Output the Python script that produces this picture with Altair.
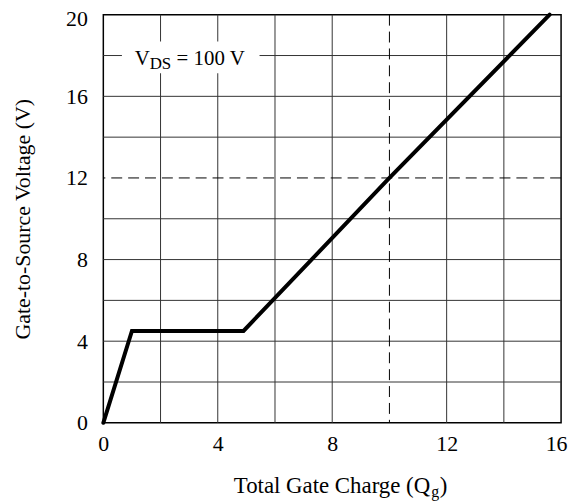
import altair as alt
import pandas as pd

# ---- data ----
qg = [0.0, 1.0, 4.9, 10.0, 15.6]          # Total gate charge
vgs = [0.0, 4.5, 4.5, 12.0, 20.0]         # Gate-to-source voltage

x_grid = [2, 4, 6, 8, 12, 14]
y_grid = [2, 4, 6, 8, 10, 14, 16, 18]
x_dash = [10]
y_dash = [12]
x_ticks = [0, 4, 8, 12, 16]
y_ticks = [0, 4, 8, 12, 16, 20]

# annotation "V_DS = 100 V"
box_x, box_x2, box_y, box_y2 = [0.65], [5.46], [17.13], [18.69]
ann_text = ["V", "DS", "= 100 V"]
ann_x = [1.10, 1.62, 2.56]
ann_y = [17.55, 17.36, 17.55]
ann_size = [21, 17, 21]

# x-axis title with subscript
xt_text = ["Total Gate Charge (Q", "g", ")"]
xt_x = [4.56, 11.46, 11.76]
xt_y = [-3.45, -3.62, -3.45]
xt_size = [23, 16, 23]

FONT = "Liberation Serif"

xscale = alt.Scale(domain=[0, 16], nice=False, zero=False)
yscale = alt.Scale(domain=[0, 20], nice=False, zero=False)

xaxis = alt.Axis(values=x_ticks, grid=False, ticks=False, tickSize=0, domain=False,
                 labelFont=FONT, labelFontSize=22, labelColor="black", labelPadding=11,
                 labelFlush=False, labelOverlap=False, title=None,
                 labelOffset={"condition": {"test": "datum.value == 16", "value": -5}, "value": 0})
yaxis = alt.Axis(values=y_ticks, grid=False, ticks=False, tickSize=0, domain=False,
                 labelFont=FONT, labelFontSize=22, labelColor="black", labelPadding=16,
                 labelFlush=False, labelOverlap=False,
                 labelOffset={"condition": {"test": "datum.value == 20", "value": 4}, "value": 0},
                 title="Gate-to-Source Voltage (V)", titleFont=FONT, titleFontSize=22,
                 titleFontWeight="normal", titleColor="black", titleX=-74, titleY=205.5,
                 titleBaseline="alphabetic")


def X(f):
    return alt.X(f, type="quantitative", scale=xscale, axis=xaxis)


def Y(f):
    return alt.Y(f, type="quantitative", scale=yscale, axis=yaxis)


curve = pd.DataFrame({"q": qg, "v": vgs})
vg = pd.DataFrame({"x": x_grid})
hg = pd.DataFrame({"y": y_grid})
vd = pd.DataFrame({"x": x_dash})
hd = pd.DataFrame({"y": y_dash})
box = pd.DataFrame({"x": box_x, "x2": box_x2, "y": box_y, "y2": box_y2})
ann = pd.DataFrame({"x": ann_x, "y": ann_y, "t": ann_text, "s": ann_size})
xt = pd.DataFrame({"x": xt_x, "y": xt_y, "t": xt_text, "s": xt_size})

grid_v = alt.Chart(vg).mark_rule(color="#333", strokeWidth=1).encode(x=X("x"))
grid_h = alt.Chart(hg).mark_rule(color="#333", strokeWidth=1).encode(y=Y("y"))
dash_v = alt.Chart(vd).mark_rule(color="black", strokeWidth=1, strokeDash=[11, 6]).encode(x=X("x"))
dash_h = alt.Chart(hd).mark_rule(color="black", strokeWidth=1, strokeDash=[11, 6]).encode(y=Y("y"))
box_l = alt.Chart(box).mark_rect(color="white").encode(x=X("x"), x2="x2", y=Y("y"), y2="y2")
line = alt.Chart(curve).mark_line(color="black", strokeWidth=4, strokeCap="round",
                                  strokeJoin="miter").encode(x=X("q"), y=Y("v"), order="q:Q")
ann_l = alt.Chart(ann).mark_text(font=FONT, color="black", align="left", baseline="alphabetic").encode(
    x=X("x"), y=Y("y"), text="t:N", size=alt.Size("s:Q", scale=None, legend=None))
xt_l = alt.Chart(xt).mark_text(font=FONT, color="black", align="left", baseline="alphabetic").encode(
    x=X("x"), y=Y("y"), text="t:N", size=alt.Size("s:Q", scale=None, legend=None))

chart = alt.layer(grid_v, grid_h, dash_v, dash_h, box_l, line, ann_l, xt_l).properties(
    width=461, height=411,
    autosize=alt.AutoSizeParams(type="none"),
    padding={"left": 96, "top": 5, "right": 12, "bottom": 80},
    background="white",
).configure_view(stroke="black", strokeWidth=1.5)

chart.save("out.html", embed_options={"renderer": "svg", "actions": False})
